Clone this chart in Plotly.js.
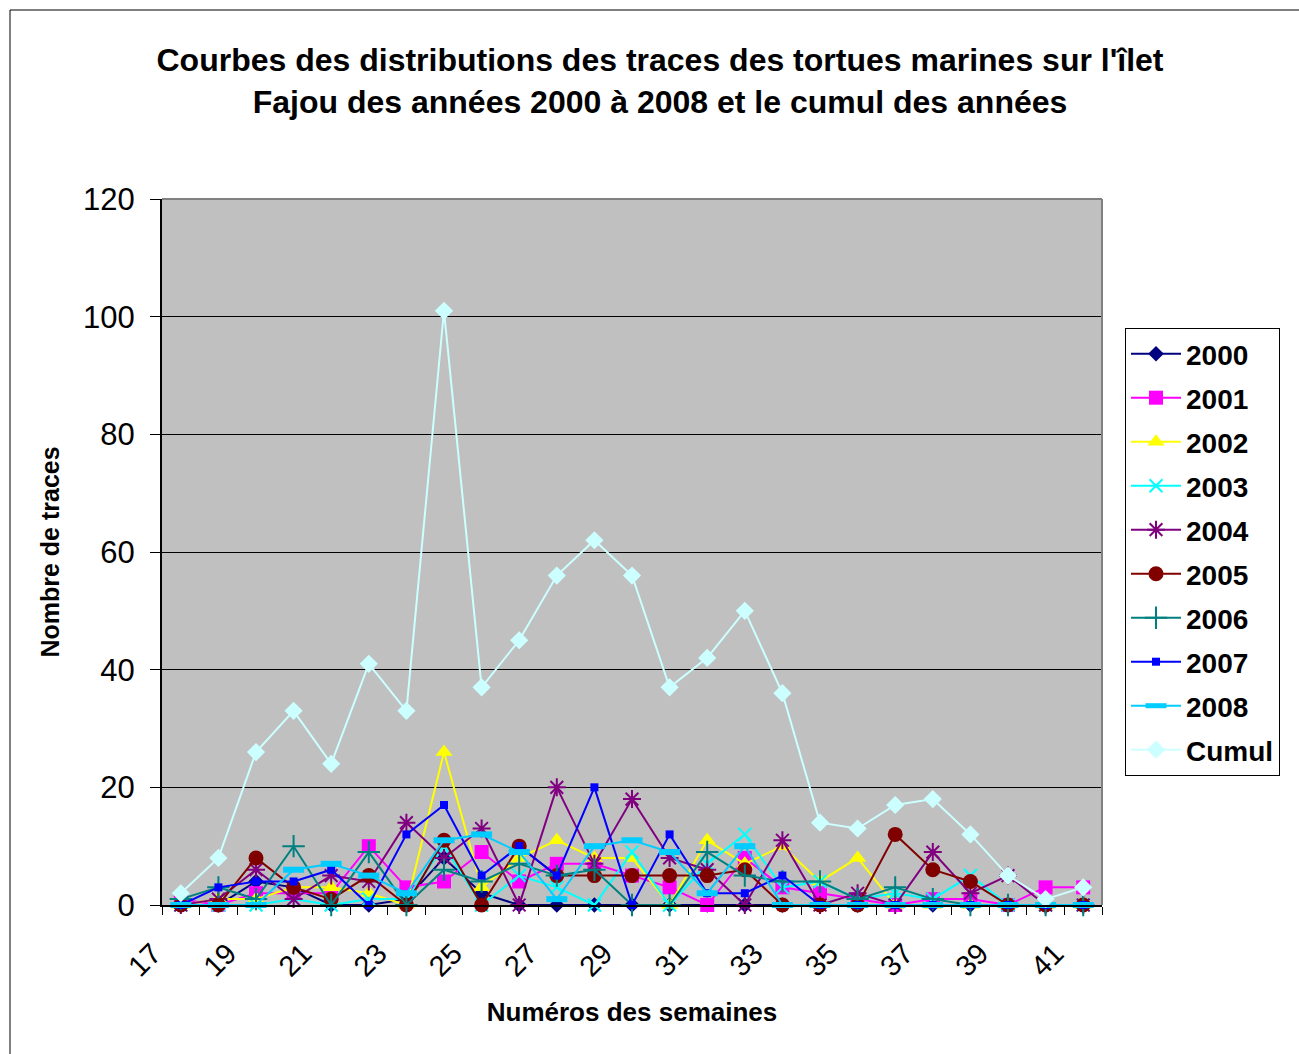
<!DOCTYPE html>
<html>
<head>
<meta charset="utf-8">
<script src="https://cdn.plot.ly/plotly-3.0.1.min.js"></script>
<style>
  html, body { margin: 0; padding: 0; background: #ffffff; }
  #chart { width: 1299px; height: 1054px; }
</style>
</head>
<body>
<div id="chart"></div>
<script>
// Week numbers (categories)
const weeks = [17,18,19,20,21,22,23,24,25,26,27,28,29,30,31,32,33,34,35,36,37,38,39,40,41];
const tickWeeks = [17,19,21,23,25,27,29,31,33,35,37,39,41];

// Series values
const y2000 = [0,0,4,3,0,0,1,8,2,0,0,0,0,0,0,0,0,0,0,0,0,0,0,0,0];
const y2001 = [1,0,2,2,2,10,3,4,9,4,7,7,5,3,0,8,3,2,1,0,1,1,0,3,3];
const y2002 = [0,1,1,3,3,2,0,26,3,8,11,8,8,0,11,7,10,4,8,0,0,0,0,0,0];
const y2003 = [0,0,0,1,0,1,1,10,0,5,3,0,9,0,7,12,3,4,1,2,1,5,0,0,0];
const y2004 = [0,1,6,1,5,4,14,8,13,0,20,7,18,8,6,0,11,0,2,0,9,2,5,0,0];
const y2005 = [0,0,8,3,1,5,0,11,0,10,5,5,5,5,5,6,0,0,0,12,6,4,0,0,0];
const y2006 = [1,3,1,10,0,9,0,6,4,7,5,6,0,0,9,5,4,4,1,3,1,0,0,0,0];
const y2007 = [0,3,4,4,6,0,12,17,5,10,5,20,0,12,2,2,5,0,0,0,0,0,0,0,0];
const y2008 = [0,0,0,6,7,5,2,11,12,9,1,10,11,9,2,10,0,0,0,0,0,0,0,0,0];
const yCumul = [2,8,26,33,24,41,33,101,37,45,56,62,56,37,42,50,36,14,13,17,18,12,5,1,3];

const seriesNames = ['2000','2001','2002','2003','2004','2005','2006','2007','2008','Cumul'];
const seriesData = [y2000,y2001,y2002,y2003,y2004,y2005,y2006,y2007,y2008,yCumul];

const styles = [
  {color:'#000080', symbol:'diamond', size:12, lw:0},
  {color:'#FF00FF', symbol:'square', size:14, lw:0},
  {color:'#FFFF00', symbol:'triangle-up', size:15, lw:0},
  {color:'#00FFFF', symbol:'x-thin-open', size:13, lw:2},
  {color:'#800080', symbol:'asterisk-open', size:15, lw:2},
  {color:'#800000', symbol:'circle', size:15, lw:0},
  {color:'#008080', symbol:'cross-thin-open', size:16, lw:2},
  {color:'#0000FF', symbol:'square', size:8, lw:0},
  {color:'#00CCFF', symbol:'line-ew-open', size:15, lw:6},
  {color:'#CCFFFF', symbol:'diamond', size:14, lw:0}
];

const traces = seriesNames.map((name, i) => ({
  type: 'scatter',
  mode: 'lines+markers',
  name: name,
  legendgroup: name,
  x: weeks,
  y: seriesData[i],
  line: {color: styles[i].color, width: 2},
  marker: {
    color: styles[i].color,
    symbol: styles[i].symbol,
    size: styles[i].size,
    line: {color: styles[i].color, width: styles[i].lw}
  },
  cliponaxis: false
}));

// pixel -> paper helpers for decorative frame
const L = 162, R = 1102, T = 199, B = 905;
const px = x => (x - L) / (R - L);
const py = y => (B - y) / (B - T);

const fontFamily = '"Liberation Sans", Arial, sans-serif';

const layout = {
  width: 1299,
  height: 1054,
  margin: {l: L, r: 1299 - R, t: T, b: 1054 - B, pad: 0},
  paper_bgcolor: '#ffffff',
  plot_bgcolor: '#C0C0C0',
  font: {family: fontFamily, color: '#000000'},
  showlegend: true,
  title: {
    text: "<b>Courbes des distributions des traces des tortues marines sur l'îlet<br>Fajou des années 2000 à 2008 et le cumul des années</b>",
    font: {family: fontFamily, size: 32, color: '#000000'},
    x: 660 / 1299,
    xanchor: 'center',
    xref: 'container',
    y: 1 - 71 / 1054,
    yanchor: 'top',
    yref: 'container'
  },
  xaxis: {
    type: 'linear',
    range: [16.5, 41.5],
    tickmode: 'array',
    tickvals: tickWeeks,
    ticktext: tickWeeks.map(String),
    tickangle: -45,
    ticks: '',
    ticklabelstandoff: 18,
    ticklabelshift: -28,
    tickfont: {family: fontFamily, size: 29, color: '#000000'},
    minor: {tick0: 16.5, dtick: 1, ticks: 'outside', ticklen: 8, tickcolor: '#000000', tickwidth: 1, showgrid: false},
    showgrid: false,
    zeroline: false,
    showline: true,
    linecolor: '#000000',
    linewidth: 2,
    title: {
      text: '<b>Numéros des semaines</b>',
      font: {family: fontFamily, size: 26, color: '#000000'},
      standoff: 21
    },
    fixedrange: true
  },
  yaxis: {
    range: [0, 120],
    dtick: 20,
    tick0: 0,
    ticks: 'outside',
    ticklen: 10,
    tickcolor: '#000000',
    tickwidth: 1,
    ticklabelstandoff: 9,
    tickfont: {family: fontFamily, size: 31, color: '#000000'},
    showgrid: true,
    gridcolor: '#000000',
    gridwidth: 1,
    zeroline: false,
    showline: true,
    linecolor: '#000000',
    linewidth: 2,
    title: {
      text: '<b>Nombre de traces</b>',
      font: {family: fontFamily, size: 25, color: '#000000'},
      standoff: 16
    },
    fixedrange: true
  },
  legend: {
    x: px(1125),
    y: py(328),
    xanchor: 'left',
    yanchor: 'top',
    bgcolor: '#ffffff',
    bordercolor: '#000000',
    borderwidth: 1,
    font: {family: fontFamily, size: 28, color: '#000000', weight: 'bold'},
    traceorder: 'grouped',
    tracegroupgap: 4.6,
    itemwidth: 50
  },
  shapes: [
    // plot area gray border (top & right)
    {type: 'line', xref: 'paper', yref: 'paper', x0: 0, x1: 1, y0: 1, y1: 1, line: {color: '#808080', width: 2}},
    {type: 'line', xref: 'paper', yref: 'paper', x0: 1, x1: 1, y0: 0, y1: 1, line: {color: '#808080', width: 2}},
    // outer chart frame (left & top)
    {type: 'line', xref: 'paper', yref: 'paper', x0: px(10), x1: px(1300), y0: py(10), y1: py(10), line: {color: '#000000', width: 1}},
    {type: 'line', xref: 'paper', yref: 'paper', x0: px(10), x1: px(10), y0: py(10), y1: py(1054), line: {color: '#000000', width: 1}}
  ],
  hovermode: false
};

Plotly.newPlot('chart', traces, layout, {staticPlot: true, displayModeBar: false});
</script>
</body>
</html>
